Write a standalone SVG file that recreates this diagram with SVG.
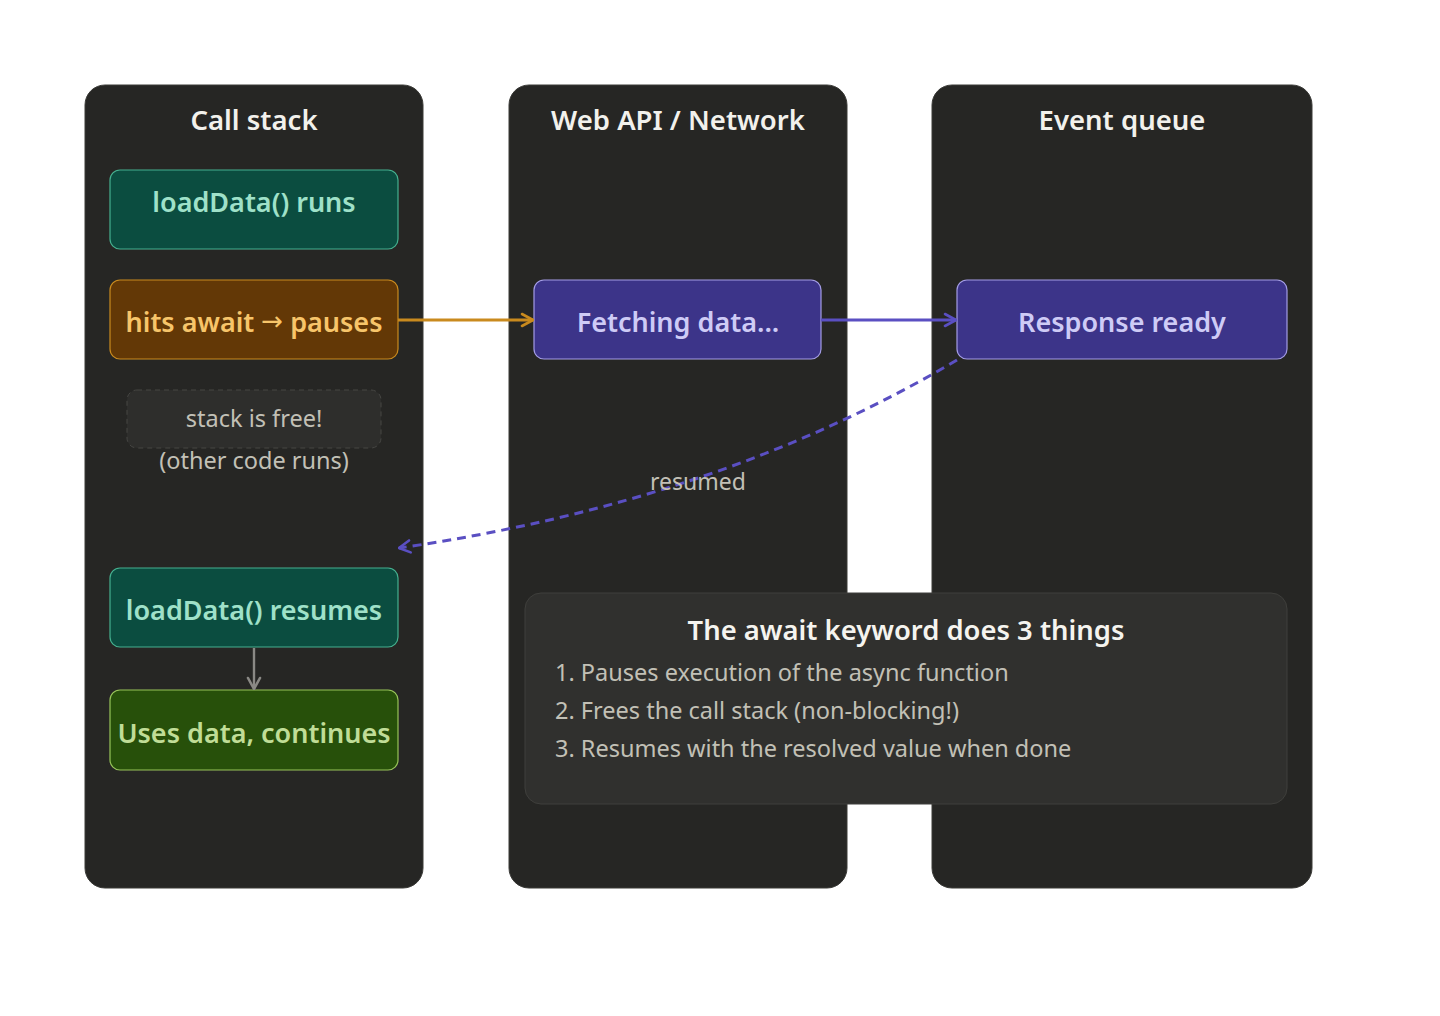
<svg xmlns="http://www.w3.org/2000/svg" width="1440" height="1016" viewBox="0 0 1440 1016">
<style>
  text { font-family: "Noto Sans", "Open Sans", "Liberation Sans", sans-serif; }
  .lane { fill: #262624; stroke: #3a3a37; stroke-width: 1; }
  .lane-title { font-size: 27.5px; font-weight: 600; fill: #f2f1ec; text-anchor: middle; }
  .node-text { font-size: 27px; font-weight: 600; text-anchor: middle; dominant-baseline: central; }
  .arrow-glyph { font-family: "DejaVu Sans", sans-serif; font-weight: normal; font-size: 26px; }
  .teal rect { fill: #0b4d40; stroke: #45b08f; stroke-width: 1.2; }
  .teal text { fill: #9fe1c9; }
  .amber rect { fill: #633806; stroke: #c98a1e; stroke-width: 1.2; }
  .amber text { fill: #f7c56a; }
  .purple rect { fill: #3c3489; stroke: #a39ce6; stroke-width: 1.2; }
  .purple text { fill: #cecbf6; }
  .green rect { fill: #27500a; stroke: #97c459; stroke-width: 1.2; }
  .green text { fill: #c0dd97; }
  .muted { font-size: 23.5px; fill: #c2c0b6; text-anchor: middle; }
  .info-title { font-size: 27.4px; font-weight: 600; fill: #f5f4ef; text-anchor: middle; }
  .info-line { font-size: 23.5px; fill: #c2c0b6; }
</style>
<defs>
  <marker id="arrOrange" viewBox="0 0 14 16" refX="13" refY="8" markerWidth="14" markerHeight="16" markerUnits="userSpaceOnUse" orient="auto">
    <path d="M2,2 L13,8 L2,14" fill="none" stroke="#c98a1e" stroke-width="2.6" stroke-linecap="round" stroke-linejoin="round"/>
  </marker>
  <marker id="arrPurple" viewBox="0 0 14 16" refX="13" refY="8" markerWidth="14" markerHeight="16" markerUnits="userSpaceOnUse" orient="auto">
    <path d="M2,2 L13,8 L2,14" fill="none" stroke="#5a4fc2" stroke-width="2.6" stroke-linecap="round" stroke-linejoin="round"/>
  </marker>
  <marker id="arrGray" viewBox="0 0 14 16" refX="13" refY="8" markerWidth="14" markerHeight="16" markerUnits="userSpaceOnUse" orient="auto">
    <path d="M2,2 L13,8 L2,14" fill="none" stroke="#8a8985" stroke-width="2.6" stroke-linecap="round" stroke-linejoin="round"/>
  </marker>
</defs>
<rect width="1440" height="1016" fill="#ffffff"/>

<g id="lane-callstack">
  <rect class="lane" x="85" y="85" width="338" height="803" rx="20"/>
  <text class="lane-title" x="254" y="130">Call stack</text>
</g>
<g id="lane-webapi">
  <rect class="lane" x="509" y="85" width="338" height="803" rx="20"/>
  <text class="lane-title" x="678" y="130">Web API / Network</text>
</g>
<g id="lane-eventqueue">
  <rect class="lane" x="932" y="85" width="380" height="803" rx="20"/>
  <text class="lane-title" x="1122" y="130">Event queue</text>
</g>

<g id="node-loaddata-runs" class="teal">
  <rect x="110" y="170" width="288" height="79" rx="10"/>
  <text class="node-text" x="254" y="201">loadData() runs</text>
</g>
<g id="node-hits-await" class="amber">
  <rect x="110" y="280" width="288" height="79" rx="10"/>
  <text class="node-text" x="254" y="321">hits await <tspan class="arrow-glyph">→</tspan> pauses</text>
</g>
<g id="node-stack-free">
  <rect x="127" y="390" width="254" height="58" rx="10" fill="#2e2e2c" stroke="#464643" stroke-width="1" stroke-dasharray="5 4"/>
  <text class="muted" x="254" y="427">stack is free!</text>
  <text class="muted" x="254" y="469">(other code runs)</text>
</g>
<g id="node-fetching" class="purple">
  <rect x="534" y="280" width="287" height="79" rx="10"/>
  <text class="node-text" x="678" y="321">Fetching data...</text>
</g>
<g id="node-response" class="purple">
  <rect x="957" y="280" width="330" height="79" rx="10"/>
  <text class="node-text" x="1122" y="321">Response ready</text>
</g>
<g id="node-loaddata-resumes" class="teal">
  <rect x="110" y="568" width="288" height="79" rx="10"/>
  <text class="node-text" x="254" y="609">loadData() resumes</text>
</g>
<g id="node-uses-data" class="green">
  <rect x="110" y="690" width="288" height="80" rx="10"/>
  <text class="node-text" x="254" y="732">Uses data, continues</text>
</g>

<g id="connectors">
  <line x1="398" y1="320" x2="533" y2="320" stroke="#c98a1e" stroke-width="2.8" marker-end="url(#arrOrange)"/>
  <line x1="821" y1="320" x2="956" y2="320" stroke="#5a4fc2" stroke-width="2.8" marker-end="url(#arrPurple)"/>
  <path d="M957,360 Q718,502 399,548" fill="none" stroke="#5a4fc2" stroke-width="3" stroke-dasharray="9 6" marker-end="url(#arrPurple)"/>
  <line x1="254" y1="648" x2="254" y2="689" stroke="#8a8985" stroke-width="2.4" marker-end="url(#arrGray)"/>
  <text class="muted" x="698" y="490" style="font-size:23px">resumed</text>
</g>

<g id="info-box">
  <rect x="525" y="593" width="762" height="211" rx="16" fill="#30302e" stroke="#3f3f3c" stroke-width="1"/>
  <text class="info-title" x="906" y="640">The await keyword does 3 things</text>
  <text class="info-line" x="555" y="681">1. Pauses execution of the async function</text>
  <text class="info-line" x="555" y="719">2. Frees the call stack (non-blocking!)</text>
  <text class="info-line" x="555" y="757">3. Resumes with the resolved value when done</text>
</g>
</svg>
